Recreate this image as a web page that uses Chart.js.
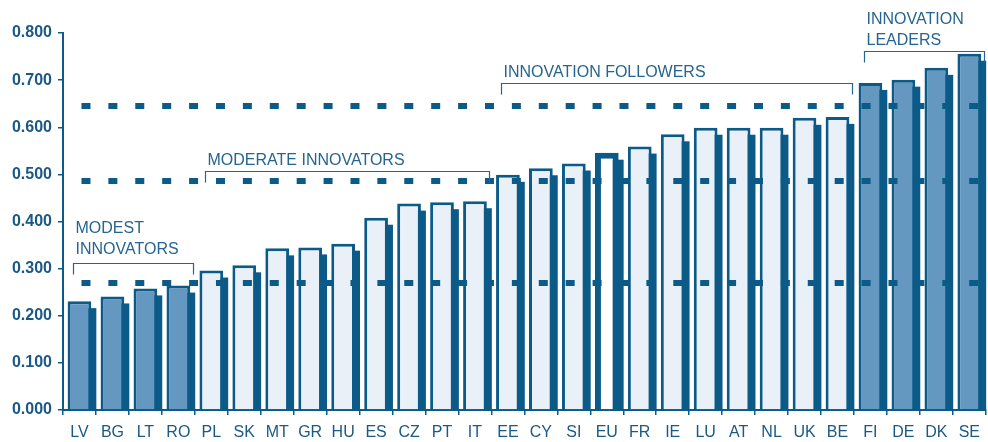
<!DOCTYPE html>
<html>
<head>
<meta charset="utf-8">
<script src="https://cdn.jsdelivr.net/npm/chart.js@4.4.1/dist/chart.umd.min.js"></script>
<style>
  html, body { margin: 0; padding: 0; background: #ffffff; }
  #wrap { width: 988px; height: 442px; }
</style>
</head>
<body>
<div id="wrap"><canvas id="c" width="988" height="442"></canvas></div>
<script>
// ---- data ----
const categories = ['LV','BG','LT','RO','PL','SK','MT','GR','HU','ES','CZ','PT','IT','EE','CY','SI','EU','FR','IE','LU','AT','NL','UK','BE','FI','DE','DK','SE'];
const scores = [0.231,0.241,0.258,0.264,0.296,0.307,0.343,0.345,0.353,0.408,0.438,0.441,0.443,0.499,0.513,0.523,0.546,0.559,0.585,0.599,0.599,0.599,0.620,0.622,0.694,0.701,0.726,0.756];
const groupOfCountry = ['modest','modest','modest','modest','moderate','moderate','moderate','moderate','moderate','moderate','moderate','moderate','moderate','follower','follower','follower','eu','follower','follower','follower','follower','follower','follower','follower','leader','leader','leader','leader'];
const thresholds = [0.27, 0.485, 0.645];
const yTicks = [0, 0.1, 0.2, 0.3, 0.4, 0.5, 0.6, 0.7, 0.8];
const groupLabels = [['MODEST','INNOVATORS'], ['MODERATE INNOVATORS'], ['INNOVATION FOLLOWERS'], ['INNOVATION','LEADERS']];
const groupFirst = [0, 4, 13, 24];
const groupLast = [3, 12, 23, 27];
const groupLevel = [0.312, 0.507, 0.694, 0.761];

// ---- styles ----
const DARK = '#0b5a87';
const MED = '#6598c0';
const LIGHT = '#e9f0f7';
const TEXT = '#1a5886';
const ANN = '#26658f';
const FONT = "'Liberation Sans', Arial, sans-serif";

const fills = groupOfCountry.map(g => (g === 'modest' || g === 'leader') ? MED : (g === 'eu' ? '#ffffff' : LIGHT));
const borders = groupOfCountry.map(g => g === 'eu' ? 6 : 3);

const shadowPlugin = {
  id: 'shadow',
  beforeDatasetsDraw(chart) {
    const meta = chart.getDatasetMeta(0);
    const ctx = chart.ctx;
    ctx.save();
    ctx.fillStyle = DARK;
    meta.data.forEach(el => {
      const p = el.getProps(['x','y','base','width'], true);
      const dx = 5, dy = 7;
      ctx.fillRect(p.x - p.width / 2 + dx, p.y + dy, p.width, p.base - p.y - dy);
    });
    ctx.restore();
  }
};

const dashPlugin = {
  id: 'dashes',
  afterDatasetsDraw(chart) {
    const ctx = chart.ctx;
    const xs = chart.scales.x, ys = chart.scales.y;
    const x0 = xs.getPixelForValue(0) + 2;
    const x1 = chart.chartArea.right;
    ctx.save();
    ctx.strokeStyle = DARK;
    ctx.lineWidth = 6;
    ctx.lineCap = 'butt';
    ctx.lineJoin = 'round';
    ctx.setLineDash([9, 17.9]);
    thresholds.forEach(t => {
      const y = Math.round(ys.getPixelForValue(t));
      ctx.beginPath();
      ctx.moveTo(x0, y);
      ctx.lineTo(x1, y);
      ctx.stroke();
    });
    ctx.restore();
  }
};

const annPlugin = {
  id: 'ann',
  afterDatasetsDraw(chart) {
    const ctx = chart.ctx;
    const xs = chart.scales.x, ys = chart.scales.y;
    const cw = xs.getPixelForValue(1) - xs.getPixelForValue(0);
    ctx.save();
    ctx.strokeStyle = ANN;
    ctx.lineWidth = 1.2;
    ctx.fillStyle = ANN;
    ctx.font = '16px ' + FONT;
    ctx.textAlign = 'left';
    ctx.textBaseline = 'alphabetic';
    groupLabels.forEach((lines, i) => {
      const xa = Math.round(xs.getPixelForValue(groupFirst[i]) - 0.2 * cw) + 0.5;
      const xb = Math.round(xs.getPixelForValue(groupLast[i]) + 0.5 * cw - 2) + 0.5;
      const y = Math.round(ys.getPixelForValue(groupLevel[i])) + 0.5;
      ctx.beginPath();
      ctx.moveTo(xa, y + 11);
      ctx.lineTo(xa, y);
      ctx.lineTo(xb, y);
      ctx.lineTo(xb, y + 11);
      ctx.stroke();
      const gap = lines.length > 1 && i === 0 ? 10 : 7;
      for (let k = 0; k < lines.length; k++) {
        const by = y - gap - (lines.length - 1 - k) * 20.5;
        ctx.fillText(lines[k], xa + 2, by);
      }
    });
    ctx.restore();
  }
};

new Chart(document.getElementById('c'), {
  type: 'bar',
  data: {
    labels: categories,
    datasets: [{
      data: scores,
      backgroundColor: fills,
      borderColor: DARK,
      borderWidth: borders,
      borderSkipped: 'bottom',
      categoryPercentage: 1.0,
      barPercentage: 0.72
    }]
  },
  options: {
    responsive: false,
    devicePixelRatio: 1,
    animation: false,
    layout: { padding: { top: 33, right: 1, left: 0, bottom: 0 } },
    plugins: { legend: { display: false }, tooltip: { enabled: false } },
    scales: {
      x: {
        grid: { offset: true, drawOnChartArea: false, drawTicks: true, tickLength: 5, color: DARK, lineWidth: 1.5 },
        border: { color: DARK, width: 2 },
        ticks: { color: TEXT, font: { family: FONT, size: 16 }, padding: 8, maxRotation: 0, autoSkip: false },
        afterFit(s) { s.height = 32; }
      },
      y: {
        min: 0, max: 0.8,
        afterBuildTicks(s) { s.ticks = yTicks.map(v => ({ value: v })); },
        grid: { drawOnChartArea: false, drawTicks: true, tickLength: 5, color: DARK, lineWidth: 1.5 },
        border: { color: DARK, width: 2 },
        ticks: { color: TEXT, font: { family: FONT, size: 16, weight: 'bold' }, padding: 6, callback: v => Number(v).toFixed(3) },
        afterFit(s) { s.width = 63; }
      }
    }
  },
  plugins: [shadowPlugin, dashPlugin, annPlugin]
});
</script>
</body>
</html>
